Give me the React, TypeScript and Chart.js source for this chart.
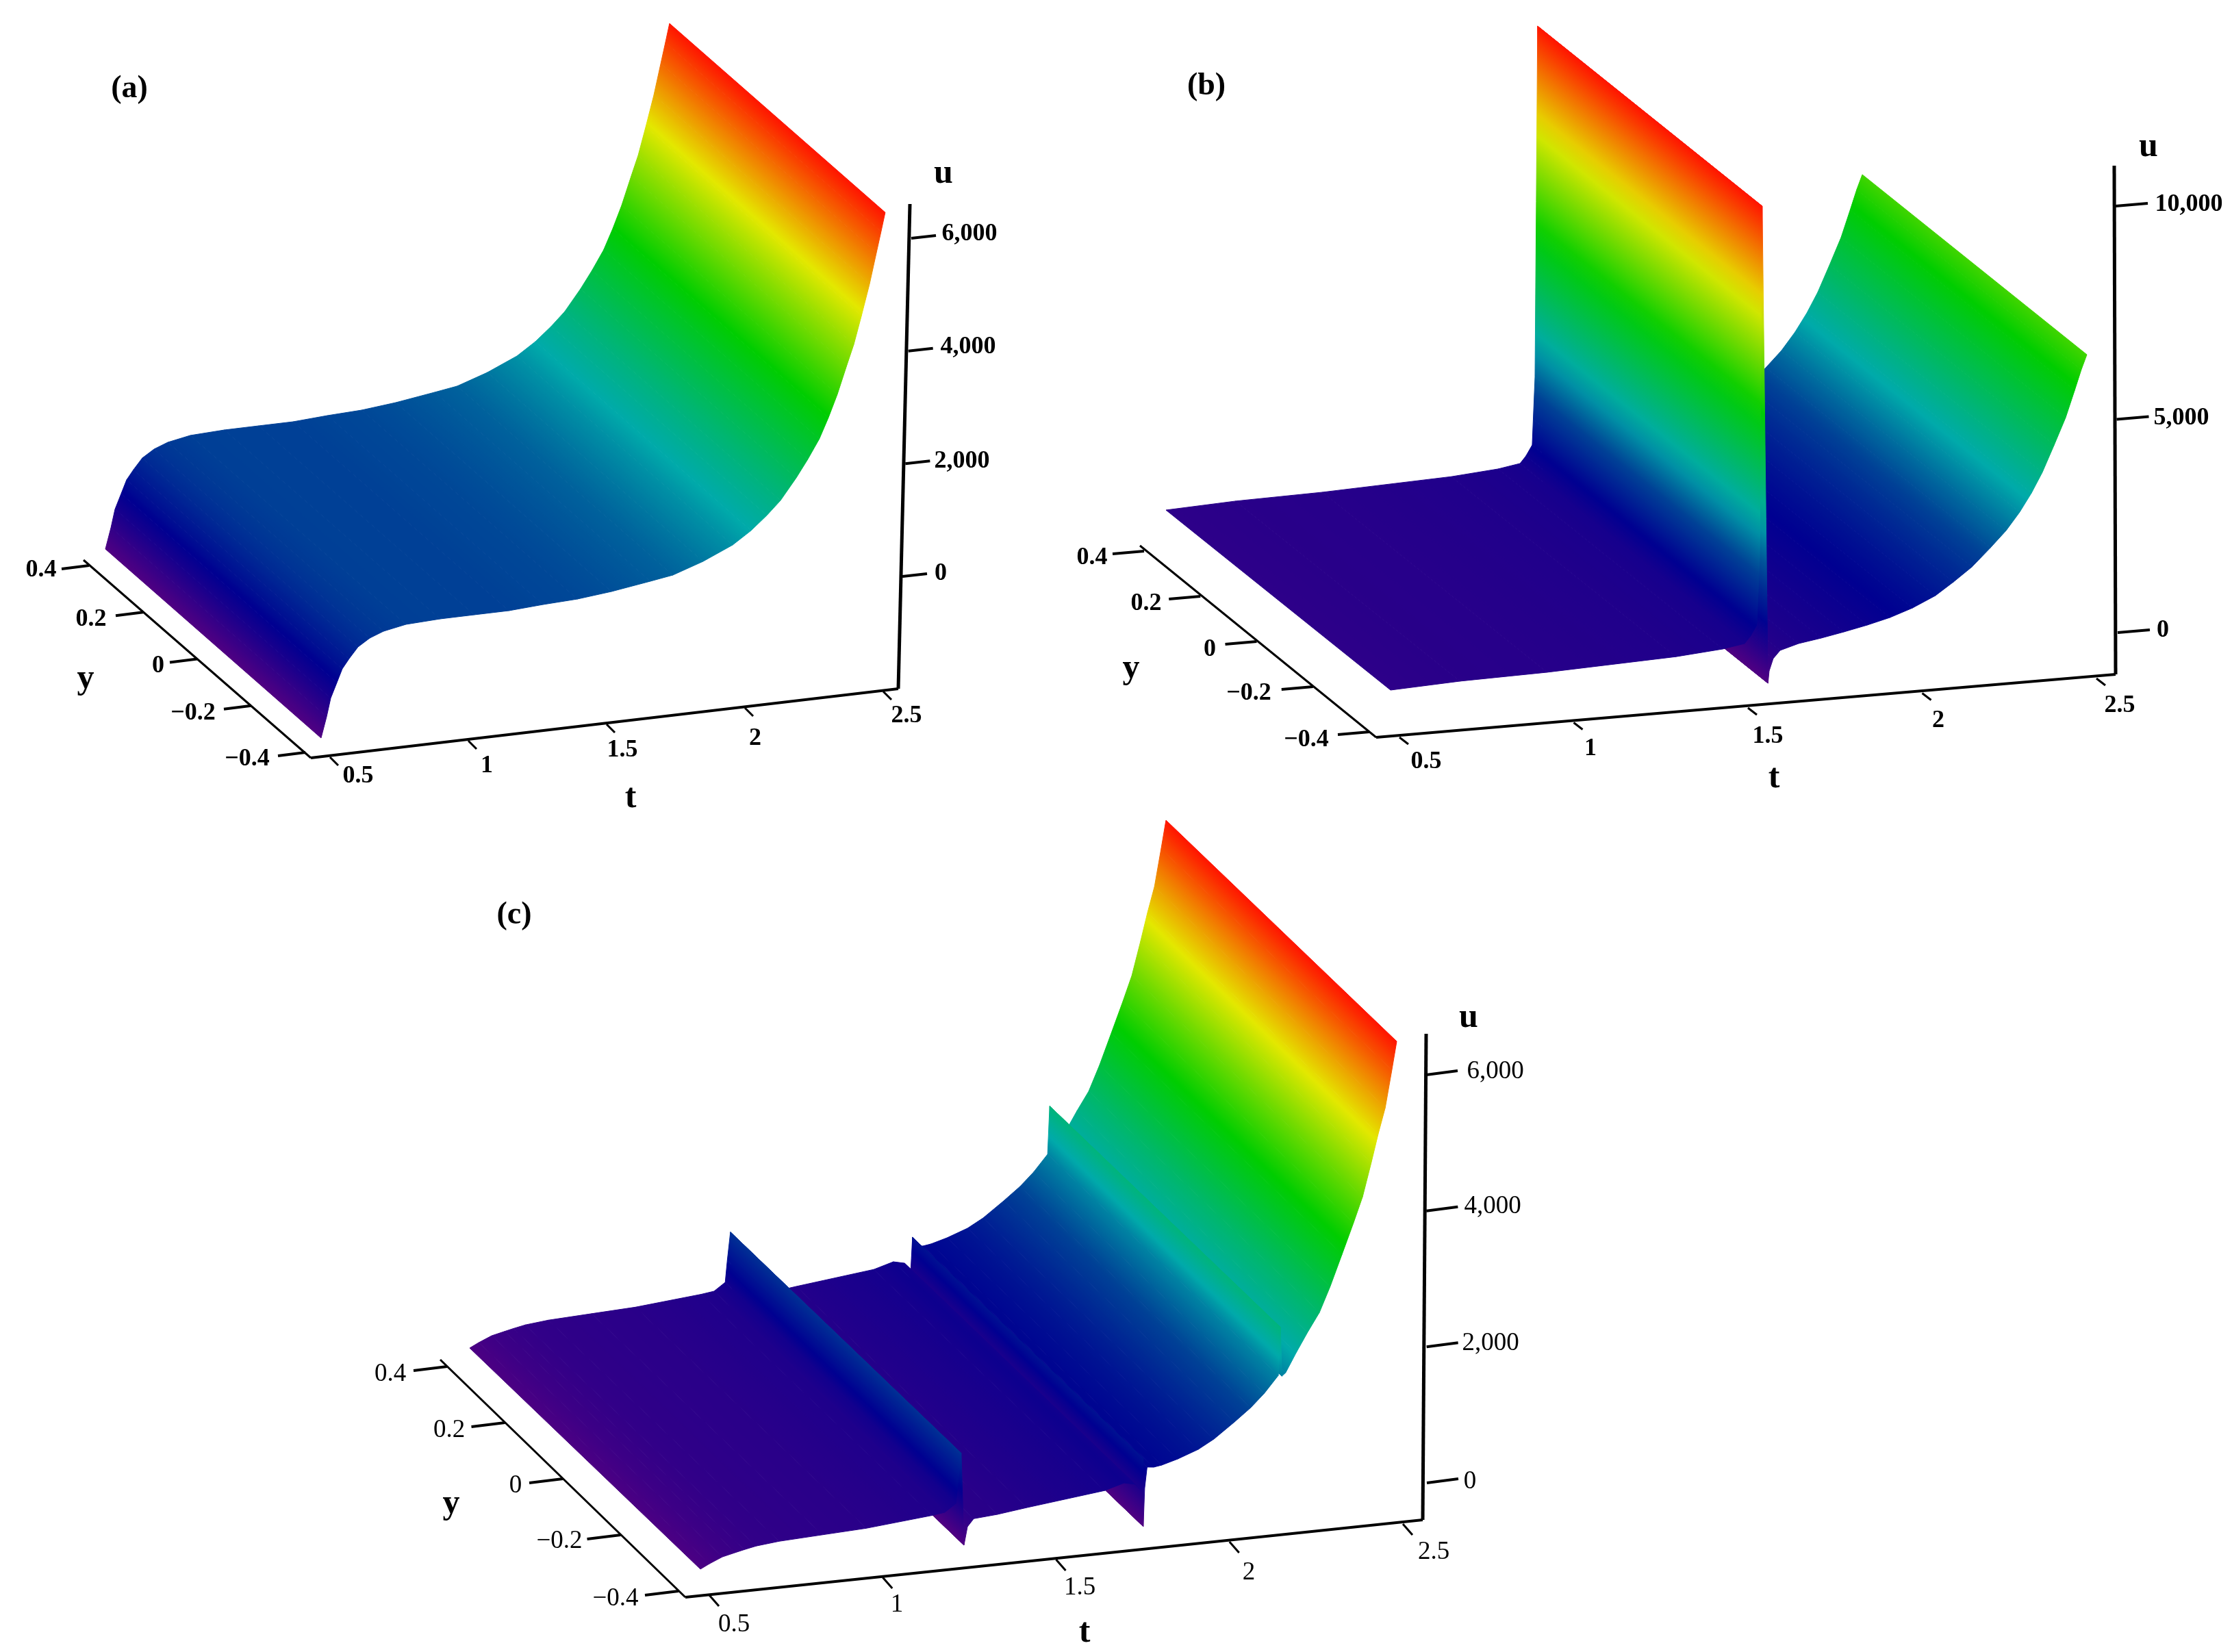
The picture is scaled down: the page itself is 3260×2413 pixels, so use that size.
import React, { useEffect, useRef } from "react";
import { Chart, registerables } from "chart.js";

Chart.register(...registerables);

// ---------- data ----------
const yEdges = [-0.4, 0.4];
const tTicks = [0.5, 1, 1.5, 2, 2.5];
const yTicks = [0.4, 0.2, 0, -0.2, -0.4];
const yTickLabels = ["0.4", "0.2", "0", "\u22120.2", "\u22120.4"];
const tTickLabels = ["0.5", "1", "1.5", "2", "2.5"];

const tA = [0.5, 0.518, 0.531, 0.552, 0.57, 0.594, 0.625, 0.667, 0.716, 0.797, 0.92, 1.044, 1.169, 1.292, 1.416, 1.539, 1.679, 1.76, 1.868, 1.974, 2.039, 2.095, 2.143, 2.198, 2.238, 2.278, 2.309, 2.339, 2.371, 2.394, 2.419, 2.445, 2.467, 2.482, 2.495];
const uA = [-1701, -1333, -1012, -746, -516, -348, -158, -24, 68, 143, 168, 169, 169, 206, 231, 293, 394, 456, 635, 866, 1082, 1320, 1556, 1926, 2231, 2571, 2931, 3326, 3830, 4181, 4677, 5219, 5765, 6135, 6464];
const uTicksA = [0, 2000, 4000, 6000];
const uLabelsA = ["0", "2,000", "4,000", "6,000"];

const tB = [0.5, 0.7, 0.95, 1.32, 1.454, 1.517, 1.534, 1.552, 1.555, 1.56, 1.5675, 1.584, 1.5875, 1.599, 1.619, 1.672, 1.737, 1.802, 1.869, 1.934, 1.999, 2.065, 2.117, 2.17, 2.223, 2.268, 2.307, 2.341, 2.372, 2.406, 2.439, 2.465, 2.484, 2.5];
const uB = [32, 104, 140, 250, 337, 422, 586, 831, 1430, 2417, 10642, -555, -269, 11, 191, 315, 398, 498, 612, 743, 923, 1167, 1453, 1769, 2181, 2552, 2958, 3384, 3844, 4462, 5082, 5706, 6175, 6517];
const uTicksB = [0, 5000, 10000];
const uLabelsB = ["0", "5,000", "10,000"];

const tC = [0.5, 0.526, 0.563, 0.6, 0.626, 0.66, 0.726, 0.85, 0.976, 1.165, 1.202, 1.234, 1.24, 1.249, 1.257, 1.267, 1.285, 1.353, 1.438, 1.661, 1.717, 1.749, 1.767, 1.769, 1.772, 1.772, 1.776, 1.783, 1.802, 1.825, 1.871, 1.93, 1.975, 2.034, 2.081, 2.12, 2.16, 2.166, 2.17, 2.181, 2.211, 2.244, 2.278, 2.309, 2.343, 2.376, 2.402, 2.427, 2.447, 2.467, 2.486, 2.5];
const uC = [-221, -155, -74, -30, 0, 35, 70, 100, 130, 220, 246, 360, 678, 1090, -265, 0, 110, 137, 193, 326, 409, 372, 263, 450, 740, -260, 300, 607, 596, 614, 680, 790, 918, 1138, 1325, 1516, 1756, 2460, 1739, 1785, 2060, 2345, 2618, 2985, 3439, 3884, 4252, 4742, 5154, 5525, 6067, 6482];
const uTicksC = [0, 2000, 4000, 6000];
const uLabelsC = ["0", "2,000", "4,000", "6,000"];

// ---------- colour map ----------
const colourStops: [number, number[]][] = [
  [0, [80, 0, 130]],
  [0.12, [0, 0, 145]],
  [0.23, [0, 65, 150]],
  [0.34, [0, 170, 170]],
  [0.57, [0, 205, 0]],
  [0.79, [228, 232, 0]],
  [1, [255, 20, 0]],
];
function colourAt(f: number) {
  const v = Math.max(0, Math.min(1, f));
  for (let i = 1; i < colourStops.length; i++) {
    const [p1, c1] = colourStops[i];
    const [p0, c0] = colourStops[i - 1];
    if (v <= p1) {
      const k = (v - p0) / (p1 - p0);
      return `rgb(${c0.map((c, j) => Math.round(c + (c1[j] - c) * k)).join(",")})`;
    }
  }
  return "rgb(255,20,0)";
}

// ---------- layout of each panel ----------
const SERIF = '"Liberation Serif", serif';
const panels = [
  {
    title: "(a)", titleAt: [189, 128], box: [0, 0, 1480, 1200], font: "bold 36px",
    t: tA, u: uA, uTicks: uTicksA, uLabels: uLabelsA,
    surf: { x0: 472.7, y0: 938, tx: 404, ty: 48, ux: 0.0022, uy: 0.0823, yx: 315, yy: 276 },
    corner: [454, 1107], yTop: [122, 818], tEnd: [1312, 1006], uTop: [1329, 298],
    t05: [482, 1106], t25: [1290, 1010], y04: [130, 826], ym04: [446, 1099], u0: [1318, 842], uHi: [1331, 348], uHiVal: 6000,
    yOff: [-40, 5], tOff: [12, 12], uOff: [36, -4],
    yLab: [[60, 831], [133, 903], [231, 971], [282, 1040], [361, 1107]],
    tLab: [[523, 1132], [711, 1117], [909, 1094], [1103, 1077], [1324, 1044]],
    uLab: [[1374, 836], [1405, 672], [1414, 505], [1416, 340]],
    yName: [125, 990], tName: [921, 1164], uName: [1378, 252],
  },
  {
    title: "(b)", titleAt: [1762, 124], box: [1500, 0, 1760, 1200], font: "bold 36px",
    t: tB, u: uB, uTicks: uTicksB, uLabels: uLabelsB,
    surf: { x0: 2031, y0: 1010, tx: 508.5, ty: 43, ux: 0, uy: 0.0623, yx: 328, yy: 263 },
    corner: [2010, 1077], yTop: [1665, 797], tEnd: [3090, 985], uTop: [3088, 242],
    t05: [2044, 1077], t25: [3062, 991], y04: [1671, 805], ym04: [2000, 1069], u0: [3093, 924], uHi: [3090, 301], uHiVal: 10000,
    yOff: [-46, 4], tOff: [13, 10], uOff: [47, -4],
    yLab: [[1595, 813], [1674, 880], [1767, 947], [1824, 1011], [1908, 1079]],
    tLab: [[2083, 1111], [2323, 1092], [2582, 1074], [2831, 1051], [3096, 1029]],
    uLab: [[3159, 919], [3186, 609], [3197, 297]],
    yName: [1652, 975], tName: [2591, 1135], uName: [3138, 213],
  },
  {
    title: "(c)", titleAt: [751, 1335], box: [500, 1180, 1800, 1233], font: "37px",
    t: tC, u: uC, uTicks: uTicksC, uLabels: uLabelsC,
    surf: { x0: 1023, y0: 2270, tx: 508.5, ty: 52, ux: 0, uy: 0.0995, yx: 337, yy: 323 },
    corner: [1001, 2333], yTop: [643, 1986], tEnd: [2078, 2220], uTop: [2083, 1510],
    t05: [1036, 2330], t25: [2049, 2226], y04: [653, 1996], ym04: [991, 2324], u0: [2084, 2166], uHi: [2083, 1570], uHiVal: 6000,
    yOff: [-49, 6], tOff: [14, 16], uOff: [46, -6],
    yLab: [[570, 2005], [656, 2087], [753, 2168], [817, 2249], [899, 2333]],
    tLab: [[1072, 2371], [1310, 2342], [1577, 2317], [1824, 2295], [2094, 2265]],
    uLab: [[2147, 2162], [2177, 1960], [2180, 1760], [2184, 1563]],
    yName: [659, 2195], tName: [1584, 2383], uName: [2145, 1485],
  },
];

type Panel = (typeof panels)[number];

const lerp = (a: number[], b: number[], k: number) => [a[0] + (b[0] - a[0]) * k, a[1] + (b[1] - a[1]) * k];

function project(p: Panel, t: number, y: number, u: number) {
  const s = p.surf;
  const k = (y + 0.4) / 0.8;
  return {
    x: s.x0 + s.tx * (t - 0.5) - s.yx * k + s.ux * u,
    y: s.y0 - s.ty * (t - 0.5) - s.yy * k - s.uy * u,
  };
}

function buildDatasets(p: Panel) {
  const datasets: any[] = [];
  const uMin = Math.min(...p.u);
  const uMax = Math.max(...p.u);
  const frac = (u: number) => (u - uMin) / (uMax - uMin);
  // strips: first dataset is painted last, so the nearest t goes first
  for (let i = 0; i < p.t.length - 1; i++) {
    const [t0, t1, u0, u1] = [p.t[i], p.t[i + 1], p.u[i], p.u[i + 1]];
    const pts = [
      project(p, t0, yEdges[0], u0),
      project(p, t0, yEdges[1], u0),
      project(p, t1, yEdges[1], u1),
      project(p, t1, yEdges[0], u1),
      project(p, t0, yEdges[0], u0),
    ];
    let cached: any = null;
    const paint = (ctx: any) => {
      if (cached) return cached;
      const solid = colourAt(frac((u0 + u1) / 2));
      const { x: sx, y: sy } = ctx.chart.scales;
      if (!sx || !sy) return solid;
      const px = (q: { x: number; y: number }) => [sx.getPixelForValue(q.x), sy.getPixelForValue(q.y)];
      const a = px(pts[0]);
      const b = px(pts[3]);
      if (![...a, ...b].every(Number.isFinite)) return solid;
      const l = Math.hypot(p.surf.yx, p.surf.yy);
      const n = [-p.surf.yy / l, p.surf.yx / l];
      const d = (b[0] - a[0]) * n[0] + (b[1] - a[1]) * n[1];
      if (Math.abs(d) < 0.5) {
        cached = solid;
        return cached;
      }
      const g = ctx.chart.ctx.createLinearGradient(a[0], a[1], a[0] + n[0] * d, a[1] + n[1] * d);
      const steps = 16;
      for (let s = 0; s <= steps; s++) {
        g.addColorStop(s / steps, colourAt(frac(u0 + ((u1 - u0) * s) / steps)));
      }
      cached = g;
      return g;
    };
    datasets.push({
      label: `strip ${i}`,
      data: pts,
      showLine: true,
      fill: "shape",
      backgroundColor: paint,
      borderColor: paint,
      borderWidth: 1,
      pointRadius: 0,
      tension: 0,
    });
  }

  const line = (a: number[], b: number[], w: number) =>
    datasets.push({
      label: "axis",
      data: [{ x: a[0], y: a[1] }, { x: b[0], y: b[1] }],
      showLine: true,
      fill: false,
      borderColor: "#000",
      borderWidth: w,
      pointRadius: 0,
    });
  line(p.yTop, p.corner, 3);
  line(p.corner, p.tEnd, 4);
  line(p.tEnd, p.uTop, 5);
  yTicks.forEach((v) => {
    const b = lerp(p.y04, p.ym04, (0.4 - v) / 0.8);
    line(b, [b[0] + p.yOff[0], b[1] + p.yOff[1]], 4);
  });
  tTicks.forEach((v) => {
    const b = lerp(p.t05, p.t25, (v - 0.5) / 2);
    line(b, [b[0] + p.tOff[0], b[1] + p.tOff[1]], 3);
  });
  p.uTicks.forEach((v) => {
    const b = lerp(p.u0, p.uHi, v / p.uHiVal);
    line(b, [b[0] + p.uOff[0], b[1] + p.uOff[1]], 4);
  });
  return datasets;
}

function textPlugin(p: Panel) {
  return {
    id: "panelText",
    afterDraw(chart: any) {
      const { ctx, scales } = chart;
      const put = (s: string, at: number[], font: string) => {
        ctx.font = font;
        ctx.fillText(s, scales.x.getPixelForValue(at[0]), scales.y.getPixelForValue(at[1]) + 2);
      };
      ctx.save();
      ctx.fillStyle = "#000";
      ctx.textAlign = "center";
      ctx.textBaseline = "middle";
      const f = `${p.font} ${SERIF}`;
      yTickLabels.forEach((s, i) => put(s, p.yLab[i], f));
      tTickLabels.forEach((s, i) => put(s, p.tLab[i], f));
      p.uLabels.forEach((s, i) => put(s, p.uLab[i], f));
      const big = `bold 50px ${SERIF}`;
      put("y", p.yName, big);
      put("t", p.tName, big);
      put("u", p.uName, big);
      put(p.title, p.titleAt, `bold 46px ${SERIF}`);
      ctx.restore();
    },
  };
}

function SurfacePanel({ panel }: { panel: Panel }) {
  const ref = useRef<HTMLCanvasElement>(null);
  useEffect(() => {
    const [left, top, w, h] = panel.box;
    const chart = new Chart(ref.current as HTMLCanvasElement, {
      type: "scatter",
      data: { datasets: buildDatasets(panel) },
      options: {
        responsive: false,
        animation: false,
        devicePixelRatio: 1,
        layout: { padding: 0 },
        plugins: { legend: { display: false }, tooltip: { enabled: false }, title: { display: false } },
        events: [],
        scales: {
          x: { type: "linear", display: false, min: left, max: left + w },
          y: { type: "linear", display: false, min: top, max: top + h, reverse: true },
        },
      } as any,
      plugins: [textPlugin(panel)],
    } as any);
    return () => chart.destroy();
  }, [panel]);
  const [left, top, w, h] = panel.box;
  return (
    <canvas
      ref={ref}
      width={w}
      height={h}
      style={{ position: "absolute", left, top, width: w, height: h }}
    />
  );
}

export default function App() {
  return (
    <div style={{ position: "absolute", left: 0, top: 0, width: 3260, height: 2413, background: "#fff", overflow: "hidden" }}>
      {panels.map((p) => (
        <SurfacePanel key={p.title} panel={p} />
      ))}
    </div>
  );
}
